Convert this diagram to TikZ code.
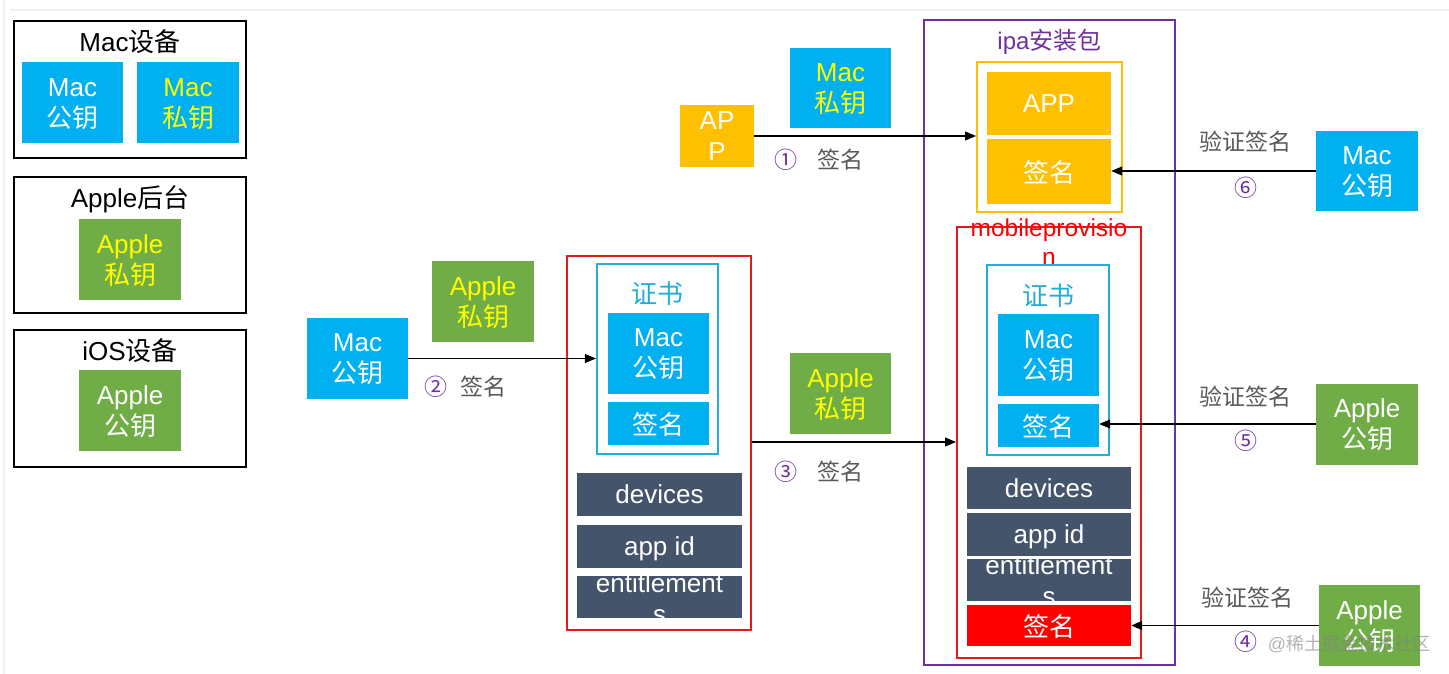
\documentclass[tikz,border=0pt]{standalone}
\usepackage{fontspec}
\setmainfont{Liberation Sans}
\newfontfamily\cjk{Noto Sans CJK SC}
\usetikzlibrary{arrows.meta}
\definecolor{kblue}{HTML}{00B0F0}
\definecolor{kgreen}{HTML}{70AD47}
\definecolor{kyellow}{HTML}{FFFF00}
\definecolor{korange}{HTML}{FFC000}
\definecolor{kslate}{HTML}{44546A}
\definecolor{kred}{HTML}{FF0000}
\definecolor{kredline}{HTML}{E41A1A}
\definecolor{kpurple}{HTML}{7030A0}
\definecolor{kcyan}{HTML}{22AED8}
\definecolor{kgray}{HTML}{595959}
\newcommand\zh[1]{{\cjk #1}}
\begin{document}
\begin{tikzpicture}[x=1pt,y=-1pt,
  box/.style={inner sep=0pt, align=center, font=\fontsize{26}{31}\selectfont, text depth=0pt},
  bluebox/.style={box, fill=kblue, text=white},
  greenbox/.style={box, fill=kgreen, text=white},
  slatebox/.style={box, fill=kslate, text=white},
  orangebox/.style={box, fill=korange, text=white},
  redbox/.style={box, fill=kred, text=white},
  yt/.style={text=kyellow},
  key/.style={minimum width=101pt, minimum height=81pt},
  frame/.style={draw=black, line width=2.5pt, inner sep=0pt},
  title/.style={inner sep=0pt, font=\fontsize{26}{31}\selectfont},
  lbl/.style={inner sep=0pt, font=\fontsize{23}{28}\selectfont, text=kgray},
  num/.style={inner sep=0pt, font=\fontsize{23}{28}\selectfont, text=kpurple},
  arr/.style={-{Triangle[length=11pt,width=9pt]}, line width=1.1pt, black}
]
\useasboundingbox (0,0) rectangle (1449,674);
\fill[white] (0,0) rectangle (1449,674);
\draw[gray!12, line width=1.5pt] (4,0) -- (4,674);
\draw[gray!12, line width=1.2pt] (10,10) -- (1449,10);

% ---------- left legend ----------
\node[frame, minimum width=232pt, minimum height=137pt] (macdev) at (130,89.5) {};
\node[title] (macdevt) at (130,42) {Mac\zh{设备}};
\node[bluebox, key] (macpub1) at (72.5,103) {Mac\\\zh{公钥}};
\node[bluebox, key, yt, minimum width=102pt] (macpri1) at (188,103) {Mac\\\zh{私钥}};

\node[frame, minimum width=232pt, minimum height=136pt] (applebg) at (130,245) {};
\node[title] (applebgt) at (130,199) {Apple\zh{后台}};
\node[greenbox, key, yt, minimum width=102pt] (applepri1) at (130,259.5) {Apple\\\zh{私钥}};

\node[frame, minimum width=232pt, minimum height=137pt] (iosdev) at (130,398.5) {};
\node[title] (iosdevt) at (130,351) {iOS\zh{设备}};
\node[greenbox, key, minimum width=102pt] (applepub1) at (130,410.5) {Apple\\\zh{公钥}};

% ---------- step 2 ----------
\node[bluebox, key] (macpub2) at (357.5,358.5) {Mac\\\zh{公钥}};
\node[greenbox, key, yt, minimum width=102pt] (applepri2) at (483,301.5) {Apple\\\zh{私钥}};

\node[draw=kredline, line width=2pt, inner sep=0pt, minimum width=184pt, minimum height=374pt] (red1) at (659,443) {};
\node[draw=kcyan, line width=2.2pt, inner sep=0pt, minimum width=121pt, minimum height=190pt] (cert1) at (657.5,359) {};
\node[title, text=kcyan] (cert1t) at (657.5,294) {\zh{证书}};
\node[bluebox, key] (certmac1) at (658.5,353.5) {Mac\\\zh{公钥}};
\node[bluebox, minimum width=101pt, minimum height=43pt] (certsig1) at (658.5,423.5) {\zh{签名}};
\node[slatebox, minimum width=165pt, minimum height=43pt] (dev1) at (659.5,494.5) {devices};
\node[slatebox, minimum width=165pt, minimum height=43pt] (appid1) at (659.5,546.5) {app id};
\node[slatebox, minimum width=165pt, minimum height=42pt] (ent1) at (659.5,597) {};
\begin{scope}
  \clip (ent1.north west) rectangle (ent1.south east);
  \node[box, text=white] (ent1t) at (659.5,599) {entitlement\\s};
\end{scope}

\draw[arr] (macpub2.east) -- (macpub2.east -| cert1.west);
\node[num] (n2) at (436,387) {\zh{②}};
\node[lbl] (l2) at (483,387) {\zh{签名}};

% ---------- step 3 ----------
\node[greenbox, key, yt] (applepri3) at (840.5,393.5) {Apple\\\zh{私钥}};

% ---------- step 1 ----------
\node[orangebox, minimum width=74pt, minimum height=62pt] (app1) at (717,136) {AP\\P};
\node[bluebox, key, yt, minimum height=80pt] (macpri2) at (840.5,88) {Mac\\\zh{私钥}};

% ---------- ipa ----------
\node[draw=kpurple, line width=2pt, inner sep=0pt, minimum width=251pt, minimum height=645pt] (ipa) at (1049.5,342.5) {};
\node[title, text=kpurple, font=\fontsize{24}{28}\selectfont] (ipat) at (1049.5,42) {ipa\zh{安装包}};
\node[draw=korange, line width=2pt, inner sep=0pt, minimum width=145pt, minimum height=150pt] (appbox) at (1049.5,137) {};
\node[orangebox, minimum width=124pt, minimum height=63pt] (appin) at (1049,103.5) {APP};
\node[orangebox, minimum width=124pt, minimum height=65pt] (sigin) at (1049,171.5) {\zh{签名}};

\node[draw=kredline, line width=2pt, inner sep=0pt, minimum width=184pt, minimum height=431pt] (red2) at (1049,442.5) {};
\node[inner sep=0pt, align=center, text=kred, font=\fontsize{24.5}{29}\selectfont] (mpt) at (1049,242) {mobileprovisio\\n};
\node[draw=kcyan, line width=2.2pt, inner sep=0pt, minimum width=122pt, minimum height=190pt] (cert2) at (1048,360) {};
\node[title, text=kcyan] (cert2t) at (1048,296) {\zh{证书}};
\node[bluebox, key, minimum height=82pt] (certmac2) at (1048.5,355) {Mac\\\zh{公钥}};
\node[bluebox, minimum width=101pt, minimum height=43pt] (certsig2) at (1048.5,425.5) {\zh{签名}};
\node[slatebox, minimum width=164pt, minimum height=42pt] (dev2) at (1049,488) {devices};
\node[slatebox, minimum width=164pt, minimum height=43pt] (appid2) at (1049,534.5) {app id};
\node[slatebox, minimum width=164pt, minimum height=42pt] (ent2) at (1049,580) {};
\begin{scope}
  \clip (ent2.north west) rectangle (ent2.south east);
  \node[box, text=white] (ent2t) at (1049,581) {entitlement\\s};
\end{scope}
\node[redbox, minimum width=164pt, minimum height=41pt] (sig2) at (1049,625.5) {\zh{签名}};

% ---------- arrows 1 and 3 ----------
\draw[arr] (app1.east) -- (app1.east -| appbox.west);
\node[num] (n1) at (786,160) {\zh{①}};
\node[lbl] (l1) at (840,160) {\zh{签名}};

\coordinate (a3) at (red1.east |- 0,442);
\draw[arr] (a3) -- (a3 -| red2.west);
\node[num] (n3) at (786,472) {\zh{③}};
\node[lbl] (l3) at (840,472) {\zh{签名}};

% ---------- right side ----------
\node[bluebox, key, minimum width=102pt, minimum height=80pt] (macpub3) at (1367,171) {Mac\\\zh{公钥}};
\draw[arr] (macpub3.west) -- (macpub3.west -| sigin.east);
\node[lbl] (v6) at (1245,142) {\zh{验证签名}};
\node[num] (n6) at (1246,188) {\zh{⑥}};

\node[greenbox, key, minimum width=102pt] (applepub2) at (1367,424) {Apple\\\zh{公钥}};
\draw[arr] (applepub2.west) -- (applepub2.west -| certsig2.east);
\node[lbl] (v5) at (1245,397) {\zh{验证签名}};
\node[num] (n5) at (1246,441) {\zh{⑤}};

\node[greenbox, key] (applepub3) at (1369.5,625.5) {Apple\\\zh{公钥}};
\draw[arr] (applepub3.west) -- (applepub3.west -| sig2.east);
\node[lbl] (v4) at (1247,598) {\zh{验证签名}};
\node[num] (n4) at (1246,642) {\zh{④}};

% watermark
\node[inner sep=0pt, text=gray, opacity=0.6, font=\fontsize{18}{20}\selectfont] (wm) at (1349,644) {@\zh{稀土掘金技术社区}};
\end{tikzpicture}
\end{document}
